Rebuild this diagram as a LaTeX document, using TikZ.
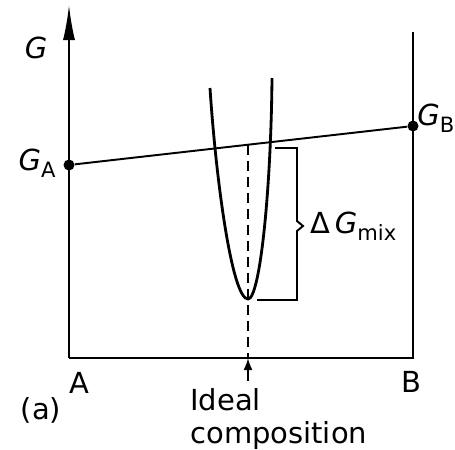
\documentclass[tikz,border=0pt]{standalone}
\usepackage{fontspec}
\setmainfont{DejaVu Sans}
\usetikzlibrary{arrows.meta,calc}
\newcommand{\Gsub}[1]{\textit{G}\raisebox{-0.45ex}{\fontsize{12}{12}\selectfont #1}}

\begin{document}
\begin{tikzpicture}[x=0.2mm,y=-0.2mm,
  axis/.style={line width=1.1pt},
  curve/.style={line width=1.6pt},
  dot/.style={circle,fill,inner sep=0pt,minimum size=2.2mm},
  lbl/.style={font=\fontsize{16.5}{19}\selectfont}]
  \useasboundingbox (0,0) rectangle (455,449);
  % axes and frame
  \coordinate (top) at (69,5);
  \coordinate (origin) at (69,358);
  \coordinate (corner) at (413,358);
  \coordinate (topB) at (413,32);
  \draw[axis,-{Latex[length=7mm,width=2.4mm]}] (origin) -- (top);
  \draw[axis] (origin) -- (corner) -- (topB);
  % mechanical mixture line
  \node[dot] (ga) at (69,165) {};
  \node[dot] (gb) at (413,126) {};
  \draw[axis] (ga) -- (gb);
  \coordinate (ideal) at ($(ga)!0.52!(gb)$);
  \draw[axis,dash pattern=on 2mm off 1.2mm] (ideal) -- (ideal |- corner);
  \coordinate (tail) at (248,381);
  \draw[axis,-{Latex[length=2.4mm,width=1.8mm]}] (tail) -- (tail |- corner);
  % free energy of the solution
  \draw[curve] (210,88) .. controls (216,180) and (232,299) .. (248,299)
    .. controls (260,299) and (271,190) .. (272,78);
  % bracket
  \draw[axis] (275,148) -- (297,148) -- (297,221) -- (303,226) -- (297,231)
    -- (297,300) -- (257,300);
  \node[lbl,anchor=west] (dgmix) at (304,226) {Δ\,\Gsub{mix}};
  % labels
  \node[lbl] (glab) at (36,48) {\textit{G}};
  \node[lbl] (galab) at (37,163) {\Gsub{A}};
  \node[lbl,anchor=west,inner sep=0pt] (gblab) at (417,118) {\Gsub{B}};
  \node[lbl] (alab) at (79,383) {A};
  \node[lbl] (blab) at (411,382) {B};
  \node[lbl] (part) at (41,410) {(a)};
  \node[lbl,align=left,anchor=north west,inner sep=0pt] (comp) at (190,388) {Ideal\\composition};
\end{tikzpicture}
\end{document}
